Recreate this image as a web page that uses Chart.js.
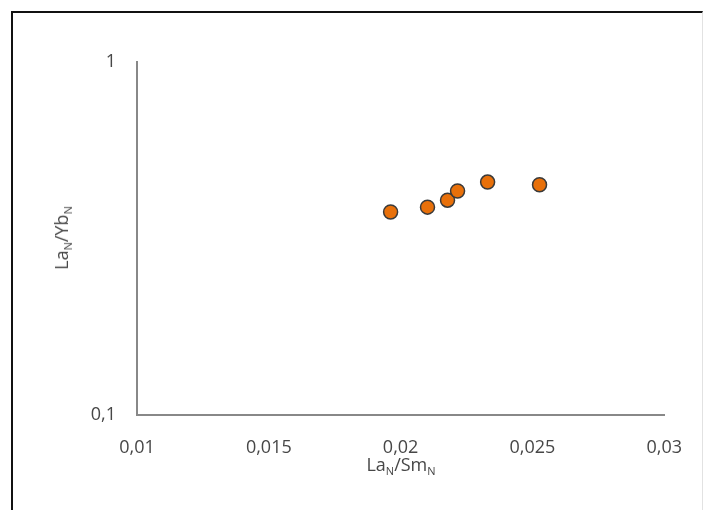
<!DOCTYPE html>
<html>
<head>
<meta charset="utf-8">
<script src="https://cdn.jsdelivr.net/npm/chart.js@4/dist/chart.umd.min.js"></script>
<style>
  body { margin: 0; background: #fff; }
  #wrap { position: relative; width: 704px; height: 510px; overflow: hidden; background: #fff; }
  #frame { position: absolute; left: 11px; top: 11px; width: 689px; height: 520px;
           border-left: 2px solid #111; border-top: 2px solid #111; border-right: 1px solid #e2e2e2; }
  canvas { position: absolute; left: 0; top: 0; }
  .ttl { position: absolute; font-family: "Open Sans", sans-serif; font-size: 18px; color: #474747; white-space: nowrap; }
  .ttl sub { font-size: 11px; vertical-align: -4px; }
  #xt { left: 401px; top: 465px; transform: translate(-50%, -50%); }
  #yt { left: 62px; top: 238px; transform: translate(-50%, -50%) rotate(-90deg); }
</style>
</head>
<body>
<div id="wrap">
  <div id="frame"></div>
  <canvas id="c" width="704" height="510"></canvas>
  <div class="ttl" id="xt">La<sub>N</sub>/Sm<sub>N</sub></div>
  <div class="ttl" id="yt">La<sub>N</sub>/Yb<sub>N</sub></div>
</div>
<script>
(function(){
    // La_N/Sm_N vs La_N/Yb_N
    const laSm = [0.01962, 0.02102, 0.02178, 0.02216, 0.02330, 0.02527];
    const laYb = [0.376, 0.388, 0.406, 0.431, 0.457, 0.449];
    const xTicks = [0.01, 0.015, 0.02, 0.025, 0.03];
    const yTicks = [0.1, 1];

    const points = laSm.map((x, i) => ({ x: x, y: laYb[i] }));
    const fmt = v => Number(v.toFixed(4)).toString().replace('.', ',');
    const tickFont = { family: '"Open Sans", sans-serif', size: 18 };

    new Chart(document.getElementById('c'), {
        type: 'scatter',
        data: {
            datasets: [{
                data: points,
                backgroundColor: '#E8700A',
                borderColor: '#3a3a3a',
                borderWidth: 1.5,
                pointRadius: 7,
                pointHoverRadius: 7
            }]
        },
        options: {
            responsive: false,
            animation: false,
            layout: { padding: { left: 0, top: 62, right: 39, bottom: 0 } },
            plugins: { legend: { display: false }, tooltip: { enabled: false } },
            scales: {
                x: {
                    type: 'linear',
                    min: 0.01, max: 0.03,
                    afterBuildTicks: s => { s.ticks = xTicks.map(v => ({ value: v })); },
                    afterFit: s => { s.height = 95; },
                    grid: { display: false, drawTicks: false },
                    border: { display: true, color: '#888888', width: 2 },
                    ticks: { padding: 22, color: '#474747', font: tickFont, maxRotation: 0, callback: v => fmt(v) }
                },
                y: {
                    type: 'logarithmic',
                    min: 0.1, max: 1,
                    afterBuildTicks: s => { s.ticks = yTicks.map(v => ({ value: v })); },
                    afterFit: s => { s.width = 137; },
                    grid: { display: false, drawTicks: false },
                    border: { display: true, color: '#888888', width: 2 },
                    ticks: { padding: 21, color: '#474747', font: tickFont, callback: v => fmt(v) }
                }
            }
        }
    });
})();
</script>
</body>
</html>
